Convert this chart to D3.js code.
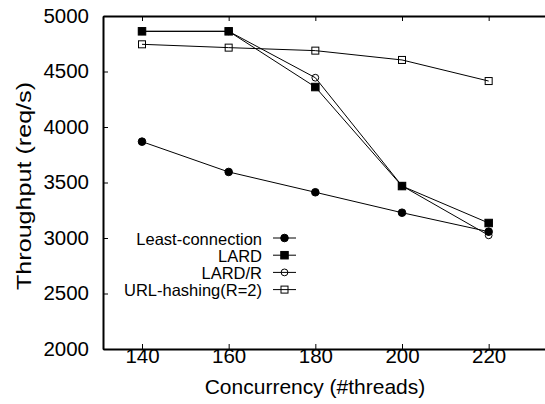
<!DOCTYPE html>
<html>
<head>
<meta charset="utf-8">
<script src="https://cdn.jsdelivr.net/npm/d3@7"></script>
<style>
  body { margin: 0; background: #fff; }
  svg { display: block; font-family: "Liberation Sans", Arial, sans-serif; }
</style>
</head>
<body>
<svg id="chart" width="545" height="404"></svg>
<script>
const threads = [140, 160, 180, 200, 220];
const leastConn = [3868, 3595, 3412, 3228, 3057];
const lard = [4862, 4862, 4360, 3468, 3135];
const lardR = [4862, 4862, 4444, 3470, 3024];
const urlHash = [4745, 4715, 4688, 4604, 4414];
const yTicks = [2000, 2500, 3000, 3500, 4000, 4500, 5000];

const series = [
  { name: 'Least-connection', values: leastConn, shape: 'circle', filled: true },
  { name: 'LARD', values: lard, shape: 'square', filled: true },
  { name: 'LARD/R', values: lardR, shape: 'circle', filled: false },
  { name: 'URL-hashing(R=2)', values: urlHash, shape: 'square', filled: false }
];

const svg = d3.select('#chart');
const plotLeft = 103, plotRight = 545, plotTop = 16, plotBottom = 349;

const x = d3.scaleLinear().domain([131, 233]).range([plotLeft, plotRight]);
const y = d3.scaleLinear().domain([2000, 5000]).range([plotBottom, plotTop]);

// axes, ticks pointing inward
let xAxis = svg.append('g')
  .attr('transform', `translate(0,${plotBottom})`)
  .call(d3.axisBottom(x).tickValues(threads).tickFormat(d3.format('d'))
    .tickSizeInner(-5).tickSizeOuter(0).tickPadding(10));
let xTop = svg.append('g')
  .attr('transform', `translate(0,${plotTop})`)
  .call(d3.axisTop(x).tickValues(threads).tickSizeInner(-5).tickSizeOuter(0).tickFormat(''));
let yAxis = svg.append('g')
  .attr('transform', `translate(${plotLeft},0)`)
  .call(d3.axisLeft(y).tickValues(yTicks).tickFormat(d3.format('d'))
    .tickSizeInner(-5).tickSizeOuter(0).tickPadding(14));

[xAxis, xTop, yAxis].forEach(a => {
  a.select('.domain').attr('stroke', '#000').attr('stroke-width', 2);
  a.selectAll('.tick line').attr('stroke', '#000').attr('stroke-width', 1);
  a.selectAll('.tick text').attr('fill', '#000').style('font-size', '20.5px').style('font-family', '"Liberation Sans", Arial, sans-serif');
});
xAxis.selectAll('.tick text').attr('dy', '0.2em');
yAxis.selectAll('.tick text').attr('dy', '0.3em');

// axis titles
svg.append('text')
  .attr('x', 315)
  .attr('y', 394)
  .attr('text-anchor', 'middle')
  .style('font-size', '21px')
  .text('Concurrency (#threads)');

svg.append('text')
  .attr('transform', 'translate(31,186) rotate(-90)')
  .attr('text-anchor', 'middle')
  .attr('textLength', 208)
  .attr('lengthAdjust', 'spacingAndGlyphs')
  .style('font-size', '21px')
  .text('Throughput (req/s)');

function marker(g, shape, filled, cx, cy) {
  if (shape === 'circle') {
    g.append('circle')
      .attr('cx', cx).attr('cy', cy).attr('r', filled ? 3.8 : 3.4)
      .attr('fill', filled ? '#000' : 'none')
      .attr('stroke', '#000').attr('stroke-width', 1);
  } else {
    let s = filled ? 7.5 : 7;
    g.append('rect')
      .attr('x', cx - s / 2).attr('y', cy - s / 2)
      .attr('width', s).attr('height', s)
      .attr('fill', filled ? '#000' : 'none')
      .attr('stroke', '#000').attr('stroke-width', 1);
  }
}

const line = d3.line().x(d => x(d[0])).y(d => y(d[1]));

series.forEach(s => {
  let g = svg.append('g').attr('class', 'series');
  let pts = threads.map((t, i) => [t, s.values[i]]);
  g.append('path')
    .attr('d', line(pts))
    .attr('fill', 'none')
    .attr('stroke', '#000')
    .attr('stroke-width', 1);
  pts.forEach(p => marker(g, s.shape, s.filled, x(p[0]), y(p[1])));
});

// legend
const legendX = 262, legendY = 238, rowH = 17.2;
series.forEach((s, i) => {
  let g = svg.append('g').attr('transform', `translate(0,${legendY + i * rowH})`);
  g.append('text')
    .attr('x', legendX).attr('y', 0).attr('dy', '0.4em')
    .attr('text-anchor', 'end')
    .style('font-size', '16.5px')
    .text(s.name);
  g.append('line')
    .attr('x1', 273).attr('x2', 296).attr('y1', 0).attr('y2', 0)
    .attr('stroke', '#000').attr('stroke-width', 1);
  marker(g, s.shape, s.filled, 284.5, 0);
});
</script>
</body>
</html>
